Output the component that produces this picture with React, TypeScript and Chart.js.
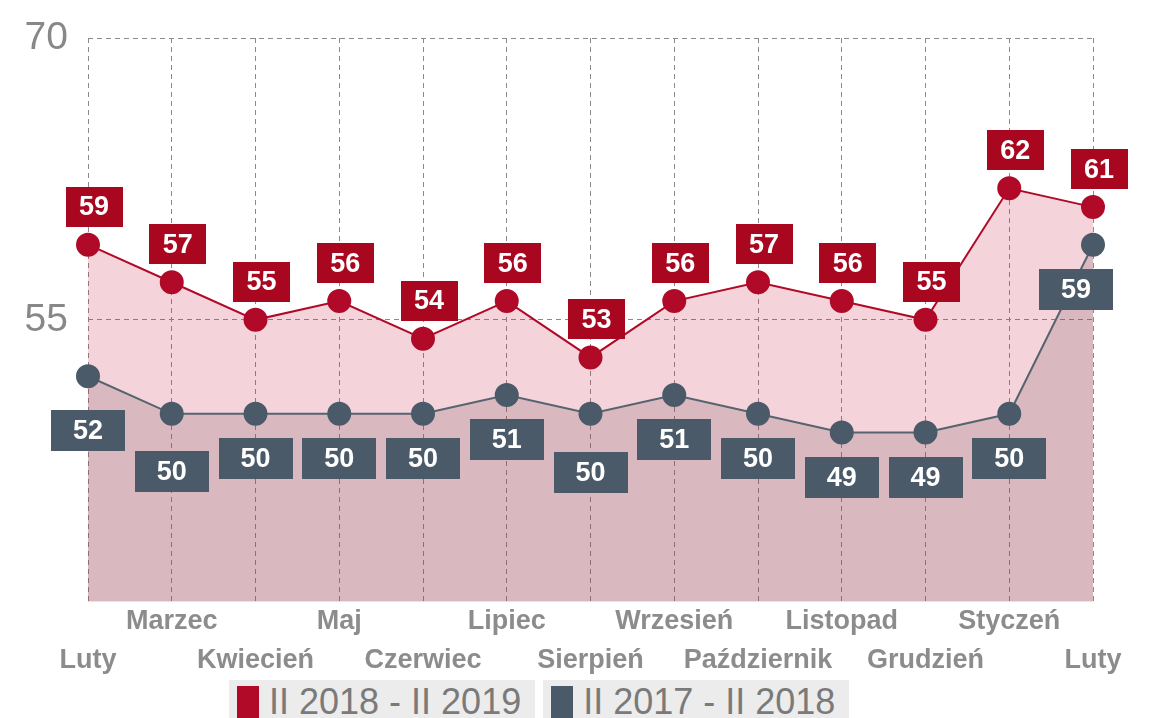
import React, { useEffect, useRef } from 'react';
import { Chart, registerables } from 'chart.js';

Chart.register(...registerables);

const months = ['Luty', 'Marzec', 'Kwiecień', 'Maj', 'Czerwiec', 'Lipiec', 'Sierpień', 'Wrzesień', 'Październik', 'Listopad', 'Grudzień', 'Styczeń', 'Luty'];
const series2019 = [59, 57, 55, 56, 54, 56, 53, 56, 57, 56, 55, 62, 61];
const series2018 = [52, 50, 50, 50, 50, 51, 50, 51, 50, 49, 49, 50, 59];
const yTicks = [40, 55, 70];
const seriesNames = ['II 2018 - II 2019', 'II 2017 - II 2018'];
// extra downward shift of the grey value boxes (label collision avoidance)
const grayLabelDrop = [10, 13, 0, 0, 0, 0, 14, 0, 0, 0, 0, 0, 0];

const RED = '#b00a28';
const SLATE = '#4a5a68';
const FONT = '"Liberation Sans", Arial, sans-serif';

const boxLabels = {
  id: 'boxLabels',
  afterDatasetsDraw(chart: any) {
    const ctx = chart.ctx;
    const area = chart.chartArea;
    ctx.save();
    ctx.setLineDash([]);
    ctx.font = `bold 27px ${FONT}`;
    ctx.textAlign = 'center';
    ctx.textBaseline = 'middle';
    chart.data.datasets.forEach((ds: any, di: number) => {
      const meta = chart.getDatasetMeta(di);
      meta.data.forEach((pt: any, i: number) => {
        const v = ds.data[i];
        let w: number, h: number, cx: number, top: number;
        if (di === 0) {
          w = 57; h = 40; cx = pt.x + 6; top = pt.y - 18 - h;
        } else {
          w = 74; h = 41; cx = Math.min(pt.x, area.right + 20 - w / 2);
          top = pt.y + 24 + grayLabelDrop[i];
        }
        ctx.fillStyle = di === 0 ? '#a8071f' : SLATE;
        ctx.fillRect(Math.round(cx - w / 2), Math.round(top), w, h);
        ctx.fillStyle = '#ffffff';
        ctx.fillText(String(v), cx, top + h / 2 + 1);
      });
    });
    ctx.restore();
  },
};

export default function App() {
  const ref = useRef<HTMLCanvasElement | null>(null);

  useEffect(() => {
    if (!ref.current) return;
    const xLabels = months.map((m, i) => (i % 2 === 0 ? ['', m] : [m, '']));
    const chart = new Chart(ref.current, {
      type: 'line',
      data: {
        labels: xLabels as any,
        datasets: [
          {
            label: seriesNames[0],
            data: series2019,
            borderColor: RED,
            backgroundColor: 'rgba(200,40,70,0.2)',
            pointBackgroundColor: RED,
            pointBorderColor: RED,
            pointRadius: 11,
            pointHoverRadius: 11,
            borderWidth: 2,
            fill: 'start',
            tension: 0,
            order: 2,
            clip: false as any,
          },
          {
            label: seriesNames[1],
            data: series2018,
            borderColor: '#56646f',
            backgroundColor: 'rgba(125,80,98,0.22)',
            pointBackgroundColor: SLATE,
            pointBorderColor: SLATE,
            pointRadius: 11,
            pointHoverRadius: 11,
            borderWidth: 2,
            fill: 'start',
            tension: 0,
            order: 1,
            clip: false as any,
          },
        ],
      },
      options: {
        responsive: false,
        maintainAspectRatio: false,
        animation: false,
        layout: { autoPadding: false, padding: { left: 0, right: 74, top: 38, bottom: 0 } },
        plugins: {
          legend: { display: false },
          tooltip: { enabled: false },
        },
        scales: {
          x: {
            offset: false,
            border: { display: false, dash: [5, 4] },
            grid: {
              color: '#8a8a8a',
              lineWidth: 1,
              drawTicks: false,
            },
            ticks: {
              padding: 0,
              autoSkip: false,
              maxRotation: 0,
              minRotation: 0,
              color: '#8c8c8c',
              font: { family: FONT, size: 27, weight: 'bold', lineHeight: 1.45 },
            },
          },
          y: {
            min: yTicks[0],
            max: yTicks[yTicks.length - 1],
            afterBuildTicks: (scale: any) => {
              scale.ticks = yTicks.map((v) => ({ value: v }));
            },
            afterFit: (scale: any) => {
              scale.width = 88;
              scale.paddingTop = 0;
              scale.paddingBottom = 0;
            },
            border: { display: false, dash: [5, 4] },
            grid: {
              color: (c: any) => (c.tick && c.tick.value === yTicks[0] ? 'rgba(0,0,0,0)' : '#8a8a8a'),
              lineWidth: 1,
              drawTicks: false,
            },
            ticks: {
              padding: 20,
              color: '#888888',
              font: { family: FONT, size: 39 },
              callback: (v: any) => (v === yTicks[0] ? '' : String(v)),
            },
          },
        },
      },
      plugins: [boxLabels],
    });
    return () => chart.destroy();
  }, []);

  const legendItem = (name: string, color: string) => (
    <div
      style={{
        display: 'flex',
        alignItems: 'center',
        background: '#ececec',
        height: 40,
        padding: '0 14px 0 8px',
        marginRight: 8,
      }}
    >
      <div style={{ width: 22, height: 34, background: color, marginRight: 10, marginTop: 6 }} />
      <span style={{ fontFamily: FONT, fontSize: 36, color: '#7a7a7a', lineHeight: '40px', marginTop: 4 }}>{name}</span>
    </div>
  );

  return (
    <div style={{ position: 'fixed', left: 0, top: 0, width: 1167, height: 718, background: '#fff', overflow: 'hidden' }}>
      <canvas ref={ref} width={1167} height={680} style={{ position: 'absolute', left: 0, top: 0, width: 1167, height: 680 }} />
      <div style={{ position: 'absolute', left: 229, top: 680, display: 'flex' }}>
        {legendItem(seriesNames[0], RED)}
        {legendItem(seriesNames[1], SLATE)}
      </div>
    </div>
  );
}
